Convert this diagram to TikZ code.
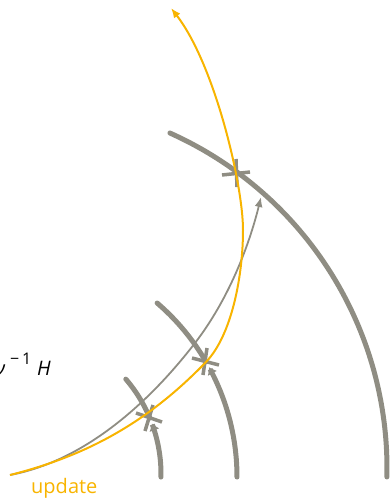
\documentclass[tikz,border=0pt]{standalone}
\usepackage{fontspec}
\setmainfont{Open Sans}
\usetikzlibrary{arrows.meta,calc}
\definecolor{arcgray}{RGB}{143,141,131}
\definecolor{upyellow}{RGB}{248,180,0}
\begin{document}
\begin{tikzpicture}[x=1pt,y=-1pt,
  levelarc/.style={draw=arcgray,line width=5pt,line cap=round},
  crossbar/.style={draw=arcgray,line width=3.5pt},
  steparrow/.style={draw=arcgray,line width=1.8pt,-{Latex[length=10pt,width=8pt]}},
  updatearrow/.style={draw=upyellow,line width=2pt,-{Latex[length=10pt,width=8pt]}},
  lbl/.style={inner sep=0pt,font=\fontsize{20}{24}\selectfont}]
\path[use as bounding box] (0,0) rectangle (391,498);
\coordinate (start) at (10,475);
% level arcs
\draw[levelarc] plot[domain=-65.9:1.4,samples=90] ({20+367*cos(\x)},{468+367*sin(\x)});
\draw[levelarc] plot[domain=-49.3:-30.1,samples=40] ({7.5+229.5*cos(\x)},{477+229.5*sin(\x)});
\draw[levelarc,{Latex[length=7pt,width=11pt]}-] plot[domain=-28.6:0,samples=50] ({7.5+229.5*cos(\x)},{477+229.5*sin(\x)});
\draw[levelarc] plot[domain=-40.7:-22.6,samples=40] ({15.5+145.5*cos(\x)},{474+145.5*sin(\x)});
\draw[levelarc,{Latex[length=7pt,width=11pt]}-] plot[domain=-20.3:1.2,samples=50] ({15.5+145.5*cos(\x)},{474+145.5*sin(\x)});
% crosses
\draw[crossbar] (222,175) -- (250,172);
\draw[crossbar] (236,159) -- (237,187);
\draw[crossbar] (192,358) -- (219,365);
\draw[crossbar] (207,348) -- (203,375);
\draw[crossbar] (136,413) -- (162,422);
\draw[crossbar] (153,405) -- (145,431);
% points on the paths
\coordinate (g1) at (195,343);
\coordinate (gtip) at (261,197);
\coordinate (y1) at (206,362);
\coordinate (y2) at (243,230);
\coordinate (ytip) at (171,8);
% Newton step (gray thin)
\draw[steparrow] (start) .. controls (90,460) and (155,395) .. (g1)
  .. controls (235,291) and (253,230) .. (gtip);
% update (yellow)
\draw[updatearrow] (start) .. controls (90,455) and (150,420) .. (y1)
  .. controls (232,335) and (243,275) .. (y2)
  .. controls (243,185) and (215,65) .. (ytip);
% labels
\node[lbl,anchor=base east] (hlabel) at (51,375) {{\itshape ν}\hspace{5pt}\raisebox{11pt}{\fontsize{16}{18}\selectfont −\,1}\hspace{6pt}{\itshape H}};
\node[lbl,anchor=base west,text=upyellow] (updlabel) at (31,493) {update};
\end{tikzpicture}
\end{document}
